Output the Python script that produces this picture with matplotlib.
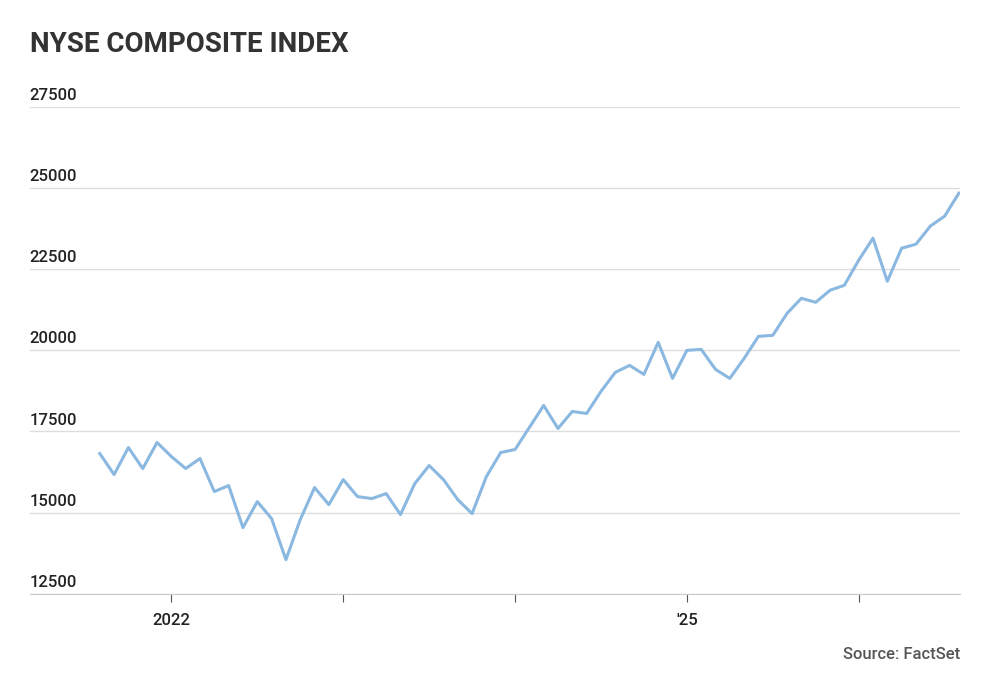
import numpy as np
from matplotlib import pyplot as plt

# monthly closing levels of the NYSE composite
ypix = np.array([455, 476, 449, 470, 444, 458, 470, 460, 493, 487, 529, 503, 520, 561, 521,
                 489, 506, 481, 498, 500, 495, 516, 485, 467, 481, 501, 515, 478, 454, 451,
                 429, 407, 430, 413, 415, 393, 374, 367, 376, 344, 380, 352, 351, 371, 380,
                 360, 338, 337, 315, 300, 304, 292, 287, 262, 240, 283, 250, 246, 228, 218, 195])
values = 20000 + (352 - ypix) * 2500 / 81.0
months = np.arange(len(values))

plt.rcParams['font.family'] = ['Roboto', 'DejaVu Sans']

fig = plt.figure(figsize=(9.87, 6.88), dpi=100)
ax = fig.add_axes([0.030, 0.137, 0.943, 0.7075])

ax.plot(months, values, color='#8ab8e0', lw=2.2)

ax.set_xlim(-4.9, 60.1)
ax.set_ylim(12500, 27500)

# grid and labels sitting just above the lines
yticks = np.arange(12500, 27501, 2500)
ax.set_yticks(yticks)
ax.yaxis.grid(True, color='#dddddd', lw=1)
ax.tick_params(axis='y', length=0, labelleft=False)
for yt in yticks:
    ax.text(0.0, yt + 120, str(yt), transform=ax.get_yaxis_transform(),
            ha='left', va='bottom', fontsize=12, fontweight='medium', color='#222222')

ax.set_xticks([5, 17, 29, 41, 53])
ax.set_xticklabels(['2022', '', '', "'25", ''], fontsize=12, color='#222222', fontweight='medium')
ax.tick_params(axis='x', length=6, color='#555555', pad=8)

for s in ['top', 'right', 'left']:
    ax.spines[s].set_visible(False)
ax.spines['bottom'].set_color('#cccccc')
ax.set_axisbelow(True)

fig.text(0.030, 0.935, 'NYSE COMPOSITE INDEX', fontsize=20, fontweight='bold',
         color='#333333', va='center', ha='left')
fig.text(0.973, 0.048, 'Source: FactSet', fontsize=12, fontweight='medium', color='#555555',
         ha='right', va='center')

plt.savefig('out.png', dpi=100)
